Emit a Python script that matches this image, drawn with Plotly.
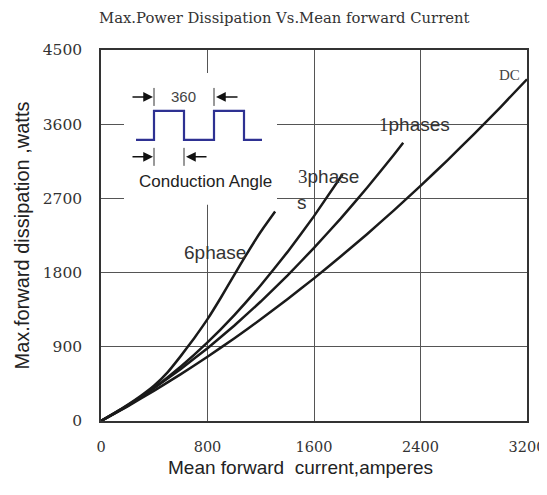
import plotly.graph_objects as go

# ---------------- data ----------------
dc_x = [0, 200, 400, 600, 800, 1000, 1200, 1400, 1600, 1800, 2000, 2200, 2400, 2600, 2800, 3000, 3200]
dc_y = [0, 178, 368, 568, 779, 1001, 1233, 1476, 1730, 1995, 2269, 2555, 2852, 3159, 3477, 3805, 4145]

p1_x = [0, 200, 400, 600, 800, 1000, 1200, 1400, 1600, 1800, 2000, 2200, 2270]
p1_y = [0, 189, 400, 632, 883, 1156, 1449, 1764, 2100, 2455, 2832, 3229, 3374]

p3_x = [0, 200, 400, 600, 800, 1000, 1200, 1400, 1600, 1815]
p3_y = [0, 184, 404, 661, 953, 1282, 1647, 2048, 2485, 2992]

p6_x = [0, 100, 200, 300, 400, 500, 600, 700, 800, 900, 1000, 1100, 1200, 1308]
p6_y = [0, 95, 195, 305, 430, 590, 790, 1005, 1235, 1495, 1770, 2040, 2295, 2540]

x_ticks = [0, 800, 1600, 2400, 3200]
y_ticks = [0, 900, 1800, 2700, 3600, 4500]

title_text = "Max.Power Dissipation Vs.Mean forward Current"
x_title = "Mean forward  current,amperes"
y_title = "Max.forward dissipation ,watts"

# ---------------- layout geometry ----------------
OFF = 8                      # page body margin
W, H = 547 - OFF, 495 - 2 * OFF - 6
L, R, T = 93, 20, 42
B = H - (421.5 - OFF)
PW, PH = W - L - R, H - T - B

def px(xp):                  # screenshot pixel -> paper
    return (xp - OFF - L) / PW

def py(yp):
    return (H - B - (yp - OFF)) / PH

fig = go.Figure()
for xs, ys in [(dc_x, dc_y), (p1_x, p1_y), (p3_x, p3_y), (p6_x, p6_y)]:
    fig.add_trace(go.Scatter(x=xs, y=ys, mode="lines",
                             line=dict(color="#1a1a1a", width=2.5, shape="spline", smoothing=0.3),
                             showlegend=False, hoverinfo="skip"))

shapes = []
# white inset box
shapes.append(dict(type="rect", xref="paper", yref="paper", x0=px(124), x1=px(277), y0=py(205), y1=py(73),
                   fillcolor="white", line=dict(width=0), layer="above"))
# square wave
wave = [(136, 140), (154, 140), (154, 111), (184, 111), (184, 140), (214, 140), (214, 111), (244, 111), (244, 140), (262, 140)]
path = "M " + " L ".join(f"{px(a):.5f},{py(b):.5f}" for a, b in wave)
shapes.append(dict(type="path", xref="paper", yref="paper", path=path,
                   line=dict(color="#2e3192", width=2.2), layer="above"))
# small vertical markers
for xx, y0, y1 in [(154, 88, 106), (214, 88, 106), (154, 148, 166), (184, 148, 166)]:
    shapes.append(dict(type="line", xref="paper", yref="paper", x0=px(xx), x1=px(xx), y0=py(y0), y1=py(y1),
                       line=dict(color="#333333", width=1), layer="above"))

annotations = []
def arrow(xh, yh, dx):
    annotations.append(dict(xref="paper", yref="paper", x=px(xh), y=py(yh), ax=dx, ay=0,
                            showarrow=True, arrowhead=2, arrowsize=1.3, arrowwidth=1.5,
                            arrowcolor="#111111", text=""))
arrow(153, 97, -22)
arrow(216, 97, 23)
arrow(153, 157, -22)
arrow(186, 157, 22)

def label(text, xp, yp, size, family, color="#333333", anchor="center"):
    annotations.append(dict(xref="paper", yref="paper", x=px(xp), y=py(yp), text=text,
                            showarrow=False, xanchor=anchor, yanchor="middle",
                            font=dict(size=size, family=family, color=color)))

label("360", 183, 97, 15, "Liberation Sans", "#444444")
label("Conduction Angle", 205, 182, 17, "Liberation Sans", "#222222")
label("DC", 509, 75, 15, "Liberation Serif", "#444444")
label('<span style="font-family:Liberation Serif">1</span>phases', 414, 125, 19, "Liberation Sans")
label('<span style="font-family:Liberation Serif">3</span>phase', 328, 177, 19, "Liberation Sans")
label("s", 302, 203, 19, "Liberation Sans")
label("6phase", 215, 253, 19, "Liberation Sans")
# x axis title (slightly left of plot centre, as in the reference)
label(x_title, 300, 468, 19, "Liberation Sans", "#222222")

# title
annotations.append(dict(xref="paper", yref="paper", x=px(97), y=py(17), text=title_text,
                        showarrow=False, xanchor="left", yanchor="middle",
                        font=dict(size=14.8, family="DejaVu Serif", color="#333333")))

fig.update_layout(
    width=W, height=H, margin=dict(l=L, r=R, t=T, b=B),
    plot_bgcolor="white", paper_bgcolor="white",
    shapes=shapes, annotations=annotations,
    xaxis=dict(range=[0, 3200], tickvals=x_ticks, ticktext=[str(v) for v in x_ticks],
               showgrid=True, gridcolor="#555555", gridwidth=1, zeroline=False,
               showline=True, linecolor="#333333", linewidth=1.5, mirror=True,
               ticks="outside", ticklen=12, tickcolor="white", automargin=False,
               ticklabeloverflow="allow",
               tickfont=dict(family="DejaVu Serif", size=14.5, color="#333333")),
    yaxis=dict(range=[0, 4500], tickvals=y_ticks, ticktext=[str(v) for v in y_ticks],
               showgrid=True, gridcolor="#555555", gridwidth=1, zeroline=False,
               showline=True, linecolor="#333333", linewidth=1.5, mirror=True,
               ticks="outside", ticklen=14, tickcolor="white", automargin=False,
               tickfont=dict(family="DejaVu Serif", size=15.5, color="#333333"),
               title=dict(text=y_title, standoff=8,
                          font=dict(family="Liberation Sans", size=20, color="#222222"))),
)

fig.write_html("out.html")
